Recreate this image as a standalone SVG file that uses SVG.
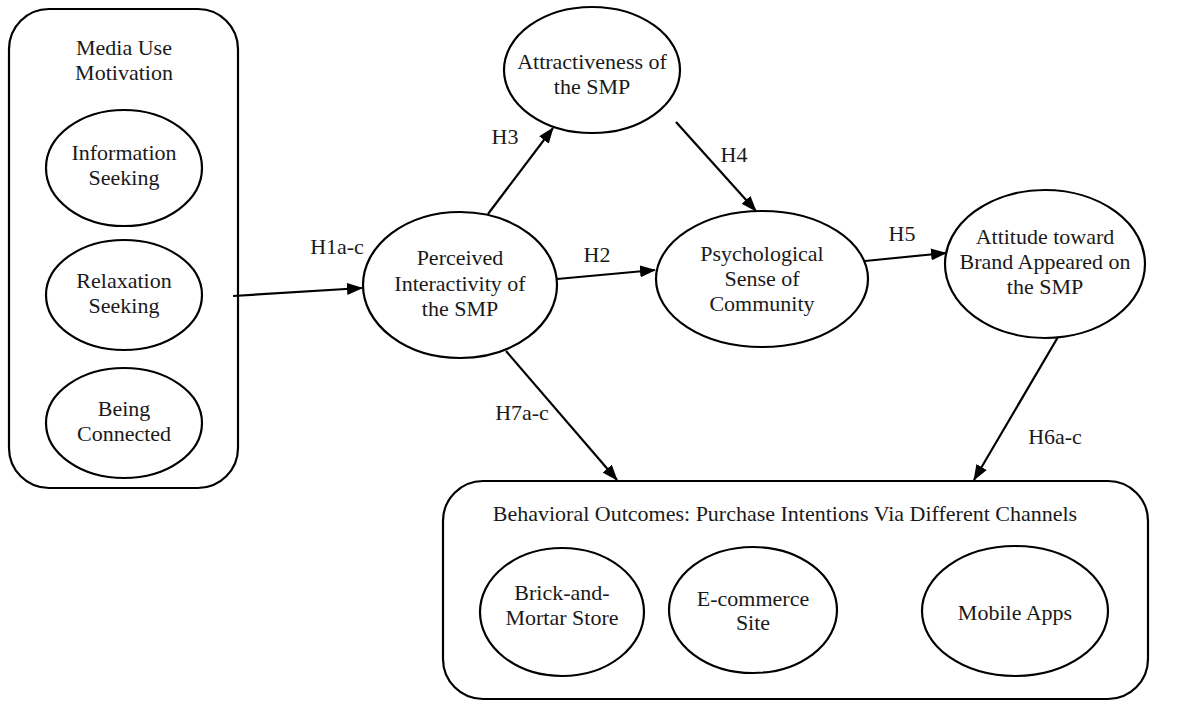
<svg xmlns="http://www.w3.org/2000/svg" width="1177" height="702" viewBox="0 0 1177 702" font-family="'Liberation Serif', 'Times New Roman', serif">
<defs>
<marker id="ah" markerUnits="userSpaceOnUse" markerWidth="16" markerHeight="12" viewBox="0 0 16 12" refX="15" refY="6" orient="auto">
<path d="M0,0 L16,6 L0,12 Z" fill="#000"/>
</marker>
<style>
.sh{fill:#fff;stroke:#000;stroke-width:2.2}
.t{font-family:'Liberation Serif','Times New Roman',serif;font-size:22px;fill:#1a1a1a;text-anchor:middle}
.c{stroke:#000;stroke-width:2.2;fill:none;marker-end:url(#ah)}
</style>
</defs>
<rect width="1177" height="702" fill="#fff"/>
<g id="media-use-motivation">
<rect class="sh" x="9" y="9" width="229" height="479" rx="40" ry="40"/>
<text class="t" x="124" y="55">Media Use</text>
<text class="t" x="124" y="80">Motivation</text>
</g>
<g id="information-seeking">
<ellipse class="sh" cx="124" cy="168" rx="78" ry="58"/>
<text class="t" x="124" y="160">Information</text>
<text class="t" x="124" y="185">Seeking</text>
</g>
<g id="relaxation-seeking">
<ellipse class="sh" cx="124" cy="295" rx="78" ry="55"/>
<text class="t" x="124" y="288">Relaxation</text>
<text class="t" x="124" y="313">Seeking</text>
</g>
<g id="being-connected">
<ellipse class="sh" cx="124" cy="423" rx="78" ry="55"/>
<text class="t" x="124" y="416">Being</text>
<text class="t" x="124" y="441">Connected</text>
</g>
<g id="perceived-interactivity">
<ellipse class="sh" cx="460" cy="285" rx="97" ry="73"/>
<text class="t" x="460" y="265">Perceived</text>
<text class="t" x="460" y="291">Interactivity of</text>
<text class="t" x="460" y="316">the SMP</text>
</g>
<g id="attractiveness">
<ellipse class="sh" cx="592" cy="70" rx="88" ry="63"/>
<text class="t" x="592" y="69">Attractiveness of</text>
<text class="t" x="592" y="94">the SMP</text>
</g>
<g id="psychological-sense">
<ellipse class="sh" cx="762" cy="279" rx="106" ry="68"/>
<text class="t" x="762" y="261">Psychological</text>
<text class="t" x="762" y="286">Sense of</text>
<text class="t" x="762" y="311">Community</text>
</g>
<g id="attitude-toward-brand">
<ellipse class="sh" cx="1045" cy="264" rx="100" ry="74"/>
<text class="t" x="1045" y="244">Attitude toward</text>
<text class="t" x="1045" y="269">Brand Appeared on</text>
<text class="t" x="1045" y="294">the SMP</text>
</g>
<g id="behavioral-outcomes">
<rect class="sh" x="443" y="481" width="705" height="218" rx="40" ry="40"/>
<text class="t" x="785" y="521">Behavioral Outcomes: Purchase Intentions Via Different Channels</text>
</g>
<g id="brick-and-mortar">
<ellipse class="sh" cx="562" cy="612" rx="82" ry="64"/>
<text class="t" x="562" y="600">Brick-and-</text>
<text class="t" x="562" y="625">Mortar Store</text>
</g>
<g id="ecommerce-site">
<ellipse class="sh" cx="753" cy="610" rx="84" ry="63"/>
<text class="t" x="753" y="606">E-commerce</text>
<text class="t" x="753" y="630">Site</text>
</g>
<g id="mobile-apps">
<ellipse class="sh" cx="1015" cy="611" rx="93" ry="65"/>
<text class="t" x="1015" y="620">Mobile Apps</text>
</g>
<g id="connectors">
<line class="c" x1="233" y1="296" x2="362" y2="288"/>
<line class="c" x1="488" y1="214" x2="553" y2="128"/>
<line class="c" x1="557" y1="279" x2="655" y2="270"/>
<line class="c" x1="676" y1="122" x2="756" y2="211"/>
<line class="c" x1="865" y1="261" x2="946" y2="253"/>
<line class="c" x1="1058" y1="337" x2="974" y2="480"/>
<line class="c" x1="506" y1="351" x2="617" y2="480"/>
<text class="t" x="337" y="254">H1a-c</text>
<text class="t" x="505" y="144">H3</text>
<text class="t" x="597" y="262">H2</text>
<text class="t" x="734" y="162">H4</text>
<text class="t" x="902" y="241">H5</text>
<text class="t" x="1055" y="444">H6a-c</text>
<text class="t" x="522" y="420">H7a-c</text>
</g>
</svg>
